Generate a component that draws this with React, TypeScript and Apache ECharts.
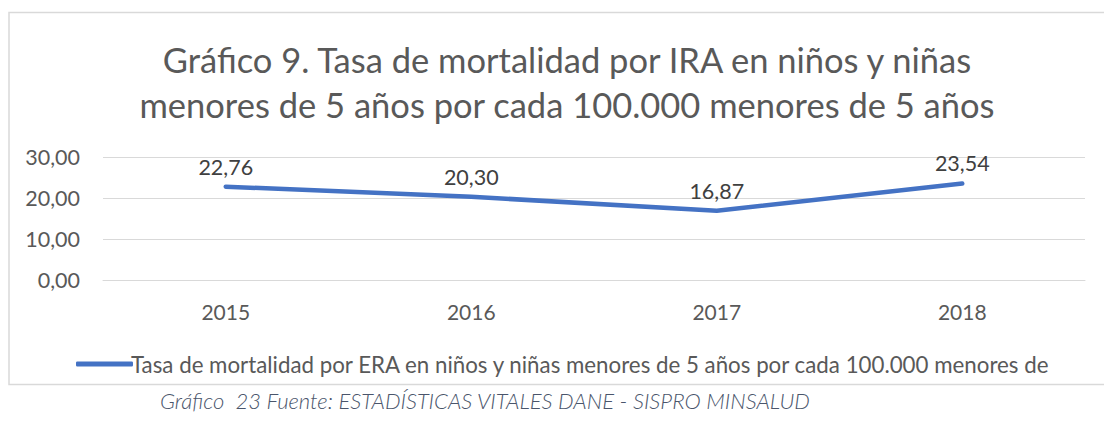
import React, { useEffect, useRef } from "react";
import * as echarts from "echarts";

const years = ["2015", "2016", "2017", "2018"];
const rates = [22.76, 20.3, 16.87, 23.54];
const yTicks = { min: 0, max: 30, interval: 10 };
const titleText = "Gráfico 9. Tasa de mortalidad por IRA en niños y niñas\nmenores de 5 años por cada 100.000 menores de 5 años";
const seriesName = "Tasa de mortalidad por ERA en niños y niñas menores de 5 años por cada 100.000 menores de";
const captionText = "Gráfico  23 Fuente: ESTADÍSTICAS VITALES DANE - SISPRO MINSALUD";

const fmt = (v: number) => v.toFixed(2).replace(".", ",");
const FONT = "Lato";

export default function App() {
  const ref = useRef<HTMLDivElement>(null);
  useEffect(() => {
    if (!ref.current) return;
    const chart = echarts.init(ref.current, null, { renderer: "svg" });
    chart.setOption({
      animation: false,
      backgroundColor: "#ffffff",
      title: {
        text: titleText,
        left: 562,
        top: 32,
        textAlign: "center",
        textStyle: {
          fontFamily: FONT,
          fontSize: 34.5,
          fontWeight: "normal",
          color: "#595959",
          lineHeight: 45,
        },
      },
      grid: { left: 103, right: 19, top: 157, height: 123 },
      xAxis: {
        type: "category",
        data: years,
        boundaryGap: true,
        axisLine: { show: true, lineStyle: { color: "#d9d9d9", width: 1 } },
        axisTick: { show: false },
        axisLabel: { fontFamily: FONT, fontSize: 21, color: "#595959", margin: 21 },
      },
      yAxis: {
        type: "value",
        min: yTicks.min,
        max: yTicks.max,
        interval: yTicks.interval,
        axisLine: { show: false },
        axisTick: { show: false },
        splitLine: { lineStyle: { color: "#d9d9d9", width: 1 } },
        axisLabel: {
          fontFamily: FONT,
          fontSize: 21.5,
          color: "#595959",
          margin: 23,
          formatter: (v: number) => fmt(v),
        },
      },
      legend: {
        left: 71,
        top: 348,
        itemWidth: 57,
        itemHeight: 5,
        itemGap: 4,
        icon: "roundRect",
        textStyle: { fontFamily: FONT, fontSize: 22.3, color: "#595959", padding: [0, 0, 0, -7] },
        data: [seriesName],
      },
      series: [
        {
          name: seriesName,
          type: "line",
          data: rates,
          symbol: "circle",
          symbolSize: 0,
          showSymbol: true,
          lineStyle: { color: "#4472C4", width: 4.5, cap: "round", join: "round" },
          itemStyle: { color: "#4472C4" },
          label: {
            show: true,
            position: "top",
            distance: 9,
            fontFamily: FONT,
            fontSize: 21.5,
            color: "#404040",
            formatter: (p: any) => fmt(p.value),
          },
        },
      ],
      graphic: [
        {
          type: "rect",
          shape: { x: 9, y: 12.5, width: 1100, height: 372 },
          style: { fill: "none", stroke: "#d9d9d9", lineWidth: 1.5 },
          silent: true,
        },
        {
          type: "text",
          x: 160,
          y: 400,
          style: {
            text: captionText,
            fontFamily: FONT,
            fontSize: 22,
            fontStyle: "italic",
            fontWeight: 300,
            fill: "#4a556b",
            verticalAlign: "middle",
          },
        },
      ],
    });
    return () => chart.dispose();
  }, []);
  return (
    <div
      ref={ref}
      style={{ position: "absolute", left: 0, top: 0, width: 1104, height: 422 }}
    />
  );
}
